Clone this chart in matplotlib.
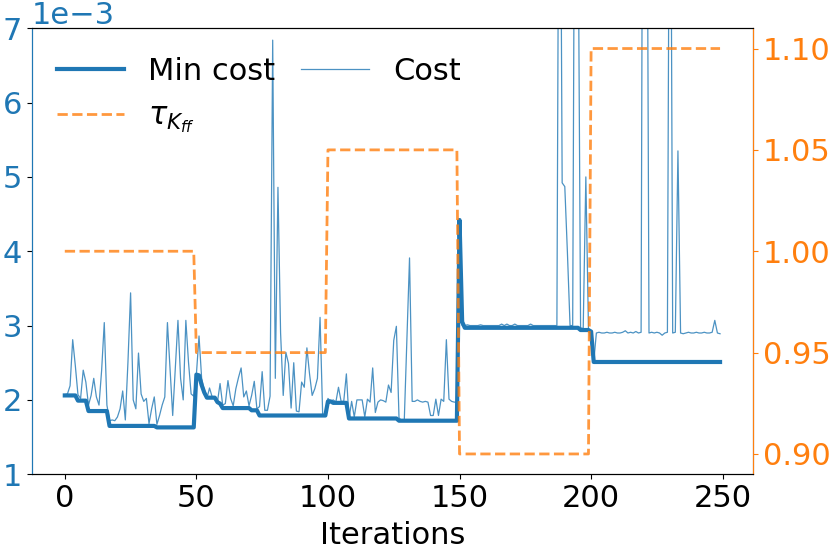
import numpy as np
import matplotlib
matplotlib.use('Agg')
import matplotlib.pyplot as plt

BLUE = '#1f77b4'
ORANGE = '#ff7f0e'

# cost values, in units of 1e-3
cost = [
    # iterations 0-49
    2.07, 2.08, 2.19, 2.81, 2.46, 2.07, 2.02, 2.40, 2.24, 1.93,
    2.06, 2.29, 2.04, 1.93, 2.40, 3.04, 1.93, 1.72, 1.73, 1.72,
    1.77, 1.88, 2.12, 1.73, 2.51, 3.44, 2.00, 1.88, 2.63, 2.08,
    1.98, 2.02, 1.68, 1.88, 2.04, 1.67, 1.79, 1.93, 2.04, 3.04,
    2.42, 1.79, 2.42, 3.07, 2.29, 2.00, 3.07, 2.51, 2.08, 2.05,
    # 50-99
    2.34, 2.86, 2.29, 2.13, 2.02, 2.16, 2.04, 2.04, 1.97, 2.22,
    1.93, 1.95, 2.26, 2.02, 1.92, 2.15, 2.30, 2.43, 2.04, 2.12,
    1.92, 2.06, 2.25, 1.88, 1.91, 2.38, 1.86, 1.86, 2.05, 6.84,
    2.29, 4.86, 2.90, 2.06, 2.64, 2.49, 1.89, 2.50, 1.85, 1.84,
    2.24, 2.17, 2.70, 2.35, 2.06, 2.15, 2.29, 3.11, 1.79, 1.79,
    # 100-149
    2.02, 1.98, 2.00, 1.97, 2.17, 1.98, 1.98, 2.35, 1.75, 1.98,
    1.77, 2.00, 2.00, 2.00, 1.77, 2.01, 1.97, 2.43, 1.83, 1.97,
    2.00, 1.99, 1.97, 2.20, 2.10, 2.80, 2.99, 1.76, 1.72, 1.72,
    2.81, 3.91, 1.98, 1.98, 2.00, 1.98, 1.97, 1.98, 1.97, 1.79,
    1.79, 2.01, 1.79, 2.01, 1.98, 2.81, 2.01, 1.98, 1.97, 1.97,
    # 150-199
    4.42, 3.00, 3.00, 3.01, 3.00, 3.00, 3.00, 3.00, 3.01, 3.00,
    3.00, 3.00, 3.00, 3.00, 3.00, 3.00, 3.02, 3.00, 3.02, 3.00,
    3.00, 3.02, 3.00, 3.00, 3.00, 3.00, 3.00, 3.02, 3.00, 3.00,
    3.00, 3.00, 3.00, 3.00, 3.00, 3.00, 3.00, 3.00, 12.0, 4.92,
    4.87, 3.98, 3.00, 3.00, 12.0, 9.00, 2.97, 2.96, 5.00, 2.95,
    # 200-249
    2.92, 2.51, 2.90, 2.91, 2.90, 2.90, 2.91, 2.90, 2.90, 2.91,
    2.90, 2.90, 2.91, 2.93, 2.90, 2.91, 2.90, 2.92, 2.90, 2.91,
    15.0, 12.0, 2.90, 2.91, 2.90, 2.91, 2.90, 2.87, 2.90, 2.91,
    12.0, 2.90, 2.91, 5.35, 2.90, 2.89, 2.90, 2.91, 2.90, 2.90,
    2.91, 2.90, 2.90, 2.91, 2.90, 2.90, 2.91, 3.07, 2.90, 2.89,
]

# running minimum within each tau phase, units of 1e-3
min_cost = [
    # 0-49
    2.06, 2.06, 2.06, 2.06, 2.06, 1.99, 1.99, 1.99, 1.99, 1.85,
    1.85, 1.85, 1.85, 1.85, 1.85, 1.85, 1.85, 1.65, 1.65, 1.65,
    1.65, 1.65, 1.65, 1.65, 1.65, 1.65, 1.65, 1.65, 1.65, 1.65,
    1.65, 1.65, 1.65, 1.65, 1.65, 1.63, 1.63, 1.63, 1.63, 1.63,
    1.63, 1.63, 1.63, 1.63, 1.63, 1.63, 1.63, 1.63, 1.63, 1.63,
    # 50-99
    2.34, 2.33, 2.20, 2.10, 2.03, 2.03, 2.03, 2.03, 1.97, 1.95,
    1.89, 1.89, 1.89, 1.89, 1.89, 1.89, 1.89, 1.89, 1.89, 1.89,
    1.89, 1.86, 1.86, 1.86, 1.79, 1.79, 1.79, 1.79, 1.79, 1.79,
    1.79, 1.79, 1.79, 1.79, 1.79, 1.79, 1.79, 1.79, 1.79, 1.79,
    1.79, 1.79, 1.79, 1.79, 1.79, 1.79, 1.79, 1.79, 1.79, 1.79,
    # 100-149
    1.98, 1.98, 1.96, 1.96, 1.96, 1.96, 1.96, 1.96, 1.75, 1.75,
    1.75, 1.75, 1.75, 1.75, 1.75, 1.75, 1.75, 1.75, 1.75, 1.75,
    1.75, 1.75, 1.75, 1.75, 1.75, 1.75, 1.75, 1.72, 1.72, 1.72,
    1.72, 1.72, 1.72, 1.72, 1.72, 1.72, 1.72, 1.72, 1.72, 1.72,
    1.72, 1.72, 1.72, 1.72, 1.72, 1.72, 1.72, 1.72, 1.72, 1.72,
    # 150-199
    4.42, 3.05, 2.97, 2.97, 2.97, 2.97, 2.97, 2.97, 2.97, 2.97,
    2.97, 2.97, 2.97, 2.97, 2.97, 2.97, 2.97, 2.97, 2.97, 2.97,
    2.97, 2.97, 2.97, 2.97, 2.97, 2.97, 2.97, 2.97, 2.97, 2.97,
    2.97, 2.97, 2.97, 2.97, 2.97, 2.97, 2.97, 2.97, 2.97, 2.97,
    2.97, 2.97, 2.97, 2.97, 2.97, 2.97, 2.94, 2.94, 2.94, 2.94,
    # 200-249
    2.92, 2.51, 2.51, 2.51, 2.51, 2.51, 2.51, 2.51, 2.51, 2.51,
    2.51, 2.51, 2.51, 2.51, 2.51, 2.51, 2.51, 2.51, 2.51, 2.51,
    2.51, 2.51, 2.51, 2.51, 2.51, 2.51, 2.51, 2.51, 2.51, 2.51,
    2.51, 2.51, 2.51, 2.51, 2.51, 2.51, 2.51, 2.51, 2.51, 2.51,
    2.51, 2.51, 2.51, 2.51, 2.51, 2.51, 2.51, 2.51, 2.51, 2.51,
]

# tau_Kff schedule: one level per 50 iterations
tau_levels = [1.00, 0.95, 1.05, 0.90, 1.10]
phase_len = 50

iters = np.arange(len(cost))
tau = np.repeat(tau_levels, phase_len)
cost = np.array(cost) * 1e-3
min_cost = np.array(min_cost) * 1e-3

plt.rcParams['font.size'] = 22

fig, ax = plt.subplots(figsize=(8.3, 5.54), dpi=100)
fig.subplots_adjust(left=0.0386, right=0.907, top=0.949, bottom=0.144)

l_min, = ax.plot(iters, min_cost, color=BLUE, lw=3, label='Min cost')
l_cost, = ax.plot(iters, cost, color=BLUE, lw=0.9, alpha=0.8, label='Cost')
ax.set_ylim(1e-3, 7e-3)
ax.set_xlabel('Iterations', labelpad=6)
ax.ticklabel_format(style='sci', axis='y', scilimits=(0, 0))
ax.tick_params(axis='y', labelcolor=BLUE)
ax.yaxis.get_offset_text().set_color(BLUE)
ax.spines['left'].set_color(BLUE)

ax2 = ax.twinx()
l_tau, = ax2.plot(iters, tau, color=ORANGE, ls='--', lw=2, alpha=0.8,
                  label=r'$\tau_{K_{ff}}$')
ax2.set_ylim(0.89, 1.11)
ax2.set_yticks([0.90, 0.95, 1.00, 1.05, 1.10])
ax2.tick_params(axis='y', colors=ORANGE)
ax2.spines['right'].set_color(ORANGE)
ax2.spines['left'].set_color(BLUE)

ax2.legend(handles=[l_min, l_tau, l_cost], loc='upper left', ncol=2,
           frameon=False, handlelength=2.2, columnspacing=0.85,
           borderaxespad=0.5, bbox_to_anchor=(-0.004, 0.997))

plt.savefig('out.png')
